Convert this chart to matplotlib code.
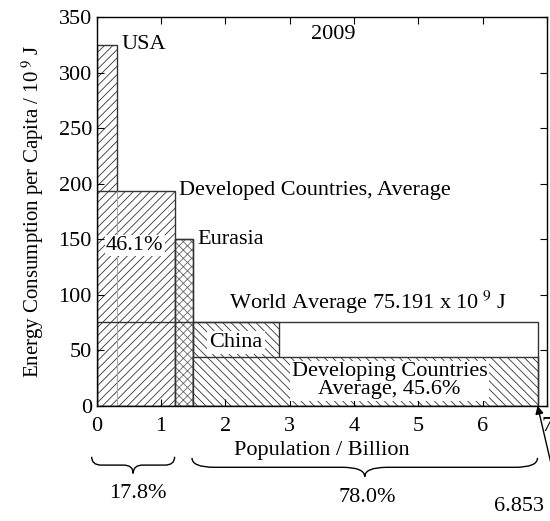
import matplotlib
matplotlib.use("Agg")
import matplotlib.pyplot as plt
from matplotlib.path import Path
from matplotlib.patches import PathPatch

# ---- data ----
regions = ["USA", "Developed Countries", "Eurasia", "China", "Developing Countries"]
pop_start = [0.0, 0.0, 1.21, 1.50, 1.50]       # billion
pop_width = [0.307, 1.21, 0.29, 1.33, 5.353]   # billion
energy = [325, 193, 150, 75, 44]               # 10^9 J per capita
world_pop = 6.853
world_avg = 75.191
share_developed_energy = "46.1%"
share_developing_energy = "45.6%"
share_developed_pop = "17.8%"
share_developing_pop = "78.0%"
year = "2009"

plt.rcParams['font.family'] = ['Liberation Serif', 'DejaVu Serif']
plt.rcParams['mathtext.fontset'] = 'stix'
plt.rcParams['hatch.linewidth'] = 0.6

fig = plt.figure(figsize=(5.5, 5.21), dpi=100)
ax = fig.add_axes([0.176, 0.2213, 0.8185, 0.7457])
ax.set_xlim(0, 7)
ax.set_ylim(0, 350)

hatches = ['////', '////', 'xxxx', '\\\\\\\\', '\\\\\\\\']
ec = '#333333'
# USA
ax.bar(pop_start[0], energy[0], pop_width[0], align='edge', facecolor='white',
       edgecolor=ec, hatch=hatches[0], linewidth=1.0, zorder=1)
# Developed
ax.bar(pop_start[1], energy[1], pop_width[1], align='edge', facecolor='white',
       edgecolor=ec, hatch=hatches[1], linewidth=1.0, zorder=1.1)
ax.vlines(pop_width[0], 0, energy[1], color='#aaaaaa', linewidth=0.8, zorder=1.15)
# Eurasia
ax.bar(pop_start[2], energy[2], pop_width[2], align='edge', facecolor='white',
       edgecolor='#666666', hatch=hatches[2], linewidth=1.0, zorder=1.1)
ax.bar(pop_start[2], energy[2], pop_width[2], align='edge', fill=False,
       edgecolor=ec, linewidth=1.0, zorder=1.12)
# China
ax.bar(pop_start[3], energy[3], pop_width[3], align='edge', facecolor='white',
       edgecolor=ec, hatch=hatches[3], linewidth=1.0, zorder=1.1)
# Developing
ax.bar(pop_start[4], energy[4], pop_width[4], align='edge', facecolor='white',
       edgecolor=ec, hatch=hatches[4], linewidth=1.0, zorder=1.2)
# World average outline
ax.bar(0, world_avg, world_pop, align='edge', fill=False, edgecolor=ec,
       linewidth=1.0, zorder=2.3)

fs = 16
ax.text(0.39, 325, "USA", fontsize=fs, va='center', ha='left')
ax.text(3.67, 334, year, fontsize=fs, va='center', ha='center')
ax.text(1.28, 194, "Developed Countries, Average", fontsize=fs, va='center', ha='left')
ax.text(0.59, 144, share_developed_energy, fontsize=fs, va='center', ha='center',
        bbox=dict(boxstyle='square,pad=0.05', facecolor='white', edgecolor='none'), zorder=2.2)
ax.text(1.57, 150, "Eurasia", fontsize=fs, va='center', ha='left')
ax.text(2.05, 93, r"World Average 75.191 x 10$^{\ 9}$ J", fontsize=fs, va='center', ha='left')
ax.text(2.16, 57, "China", fontsize=fs, va='center', ha='center',
        bbox=dict(boxstyle='square,pad=0.1', facecolor='white', edgecolor='none'), zorder=2.2)
ax.text(4.55, 22.5, "Developing Countries\nAverage, " + share_developing_energy, fontsize=fs,
        va='center', ha='center', linespacing=0.92,
        bbox=dict(boxstyle='square,pad=0.08', facecolor='white', edgecolor='none'), zorder=2.2)

ax.set_xticks(range(0, 8))
ax.set_yticks(range(0, 351, 50))
ax.tick_params(direction='in', top=True, right=True, labelsize=16, length=5, width=0.8)
ax.tick_params(axis='x', pad=8)
for s in ax.spines.values():
    s.set_linewidth(1.0)
    s.set_zorder(3)
ax.set_xlabel("Population / Billion", fontsize=16, labelpad=4)
ax.set_ylabel(r"Energy Consumption per Capita / 10$^{\ 9}$ J", fontsize=15, labelpad=9)


def brace(x0, x1, yt, d, w):
    xm = (x0 + x1) / 2
    q = yt - d / 2
    verts = [(x0, yt), (x0, q), (x0 + w, q),
             (xm - w, q),
             (xm, q), (xm, yt - d),
             (xm, q), (xm + w, q),
             (x1 - w, q),
             (x1, q), (x1, yt)]
    codes = [Path.MOVETO, Path.CURVE3, Path.CURVE3,
             Path.LINETO,
             Path.CURVE3, Path.CURVE3,
             Path.CURVE3, Path.CURVE3,
             Path.LINETO,
             Path.CURVE3, Path.CURVE3]
    p = PathPatch(Path(verts, codes), facecolor='none', edgecolor='black',
                  linewidth=1.0, clip_on=False)
    ax.add_patch(p)


brace(-0.08, pop_width[1], -46, 15, 0.15)
brace(pop_start[4] - 0.02, world_pop, -47, 17, 0.35)
ax.text(0.64, -79, share_developed_pop, fontsize=fs, ha='center', va='center')
ax.text(4.2, -83, share_developing_pop, fontsize=fs, ha='center', va='center')
ax.annotate("6.853 Billion", xy=(world_pop, 0), xytext=(6.18, -91),
            fontsize=fs, ha='left', va='center', annotation_clip=False,
            arrowprops=dict(arrowstyle='-|>', color='black', lw=1.0,
                            shrinkA=0, shrinkB=0, mutation_scale=12,
                            relpos=(0.55, 1.0)))

fig.savefig("out.png", dpi=100)
